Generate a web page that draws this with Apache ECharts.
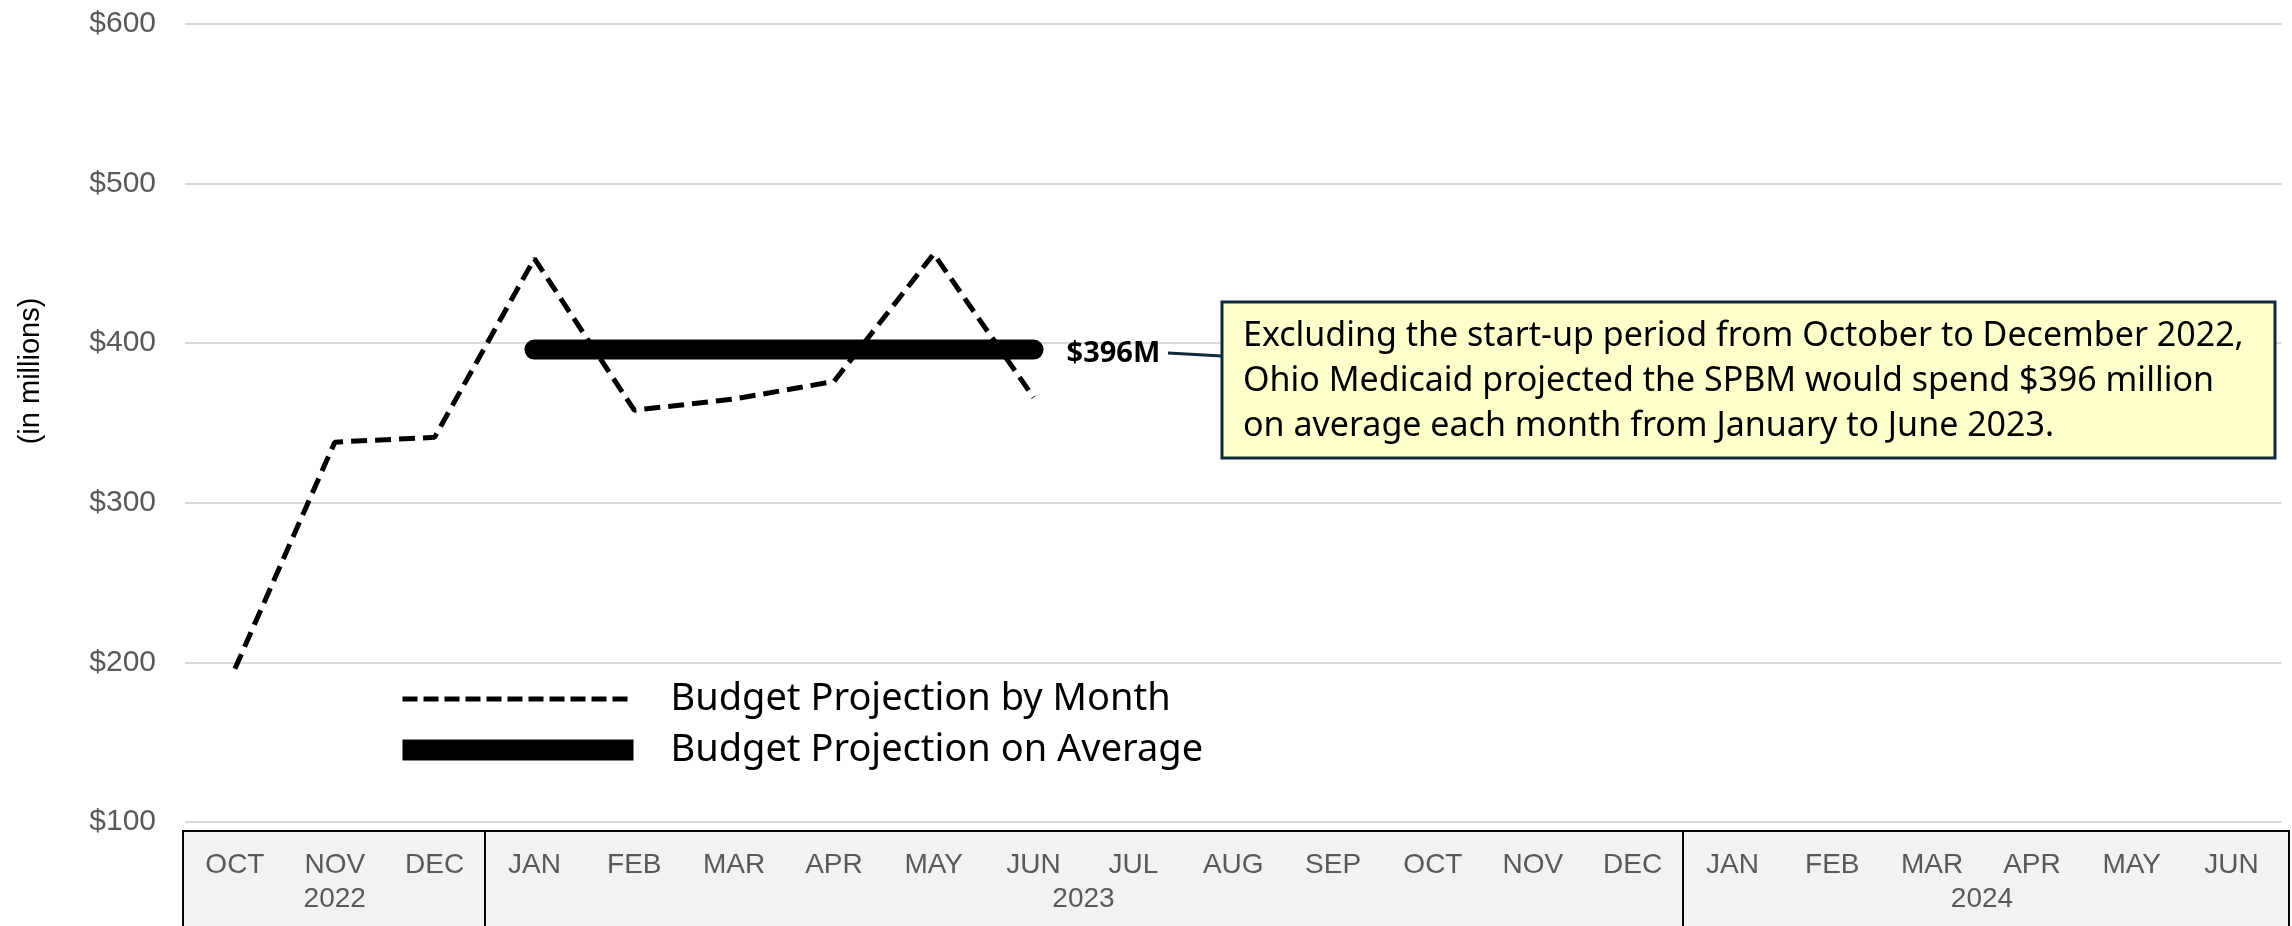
<!DOCTYPE html>
<html>
<head>
<meta charset="utf-8">
<script src="https://cdn.jsdelivr.net/npm/echarts@6/dist/echarts.min.js"></script>
<style>
html,body{margin:0;padding:0;background:#fff;}
#main{width:2292px;height:926px;}
</style>
</head>
<body>
<div id="main"></div>
<script>
var months = ['OCT','NOV','DEC','JAN','FEB','MAR','APR','MAY','JUN','JUL','AUG','SEP','OCT','NOV','DEC','JAN','FEB','MAR','APR','MAY','JUN'];
var monthly = [196, 338, 341, 453, 358, 365, 376, 456, 366];
var average = [null, null, null, 396, 396, 396, 396, 396, 396];
var years = ['2022', '2023', '2024'];
var yearFirst = [0, 3, 15];
var yearLast = [2, 14, 20];
var yRange = [100, 600];
var yStep = 100;
var note = 'Excluding the start-up period from October to December 2022,\nOhio Medicaid projected the SPBM would spend $396 million\non average each month from January to June 2023.';

// year labels sit in the middle of their months, separators between years
var yearMid = years.map(function(y, i){ return (yearFirst[i] + yearLast[i]) / 2; });
var yearSplit = yearFirst.slice(1).map(function(v){ return v - 0.5; });

var chart = echarts.init(document.getElementById('main'));

var option = {
  animation:false,
  backgroundColor:'#fff',
  textStyle:{fontFamily:'Liberation Sans'},
  grid:[
    {left:185, right:10.5, top:24, bottom:104, outerBoundsMode:'none'},
    {left:185, right:10.5, top:831, bottom:0, outerBoundsMode:'none'},
    //box behind the month labels
    {left:183, right:3, top:831, bottom:-20, outerBoundsMode:'none', show:true, backgroundColor:'#f2f2f2', borderColor:'#000', borderWidth:2}
  ],
  legend:{
    orient:'vertical',
    left:400,
    top:680,
    padding:0,
    itemWidth:231,
    itemHeight:21,
    itemGap:13,
    selectedMode:false,
    textStyle:{fontFamily:'Noto Sans', fontSize:38, lineHeight:38, color:'#000', padding:[0,0,0,32]},
    data:[
      {name:'Budget Projection by Month', lineStyle:{width:5, type:[15,6]}, itemStyle:{color:'rgba(0,0,0,0)', borderWidth:0}},
      {name:'Budget Projection on Average', icon:'rect', itemStyle:{color:'#000', borderWidth:0}}
    ]
  },
  xAxis:[
    {
      type:'category', gridIndex:0, data:months, boundaryGap:true,
      axisLine:{show:false}, axisTick:{show:false}, axisLabel:{show:false}
    },
    {
      type:'category', gridIndex:1, data:months, position:'top', boundaryGap:true,
      axisLine:{show:false}, axisTick:{show:false},
      axisLabel:{inside:true, interval:0, margin:20, fontSize:28, color:'#595959'}
    },
    {
      type:'value', gridIndex:1, min:-0.5, max:20.5, position:'bottom',
      axisLine:{show:false}, splitLine:{show:false},
      axisTick:{show:true, inside:true, length:95, customValues:yearSplit, lineStyle:{color:'#000', width:2}},
      axisLabel:{
        inside:true, margin:13, customValues:yearMid, fontSize:28, color:'#595959',
        formatter:function(v){ return years[yearMid.indexOf(v)]; }
      }
    }
  ],
  yAxis:[
    {
      type:'value', gridIndex:0, min:yRange[0], max:yRange[1], interval:yStep,
      axisLine:{show:false}, axisTick:{show:false},
      axisLabel:{formatter:'${value}', fontSize:30, color:'#595959', margin:29},
      splitLine:{lineStyle:{color:'#d9d9d9', width:2}}
    },
    {type:'value', gridIndex:1, show:false}
  ],
  series:[
    {
      name:'Budget Projection by Month',
      type:'line',
      xAxisIndex:0, yAxisIndex:0,
      data:monthly,
      symbol:'none',
      z:2,
      itemStyle:{color:'#000'},
      lineStyle:{color:'#000', width:5, type:[16,8]}
    },
    {
      name:'Budget Projection on Average',
      type:'line',
      xAxisIndex:0, yAxisIndex:0,
      data:average,
      symbol:'none',
      z:3,
      itemStyle:{color:'#000'},
      lineStyle:{color:'#000', width:20, cap:'round'},
      endLabel:{
        show:true, distance:33, offset:[0,4], fontFamily:'Noto Sans', fontSize:29, fontWeight:'bold', color:'#000',
        formatter:function(p){ return '$' + p.value + 'M'; }
      }
    }
  ],
  graphic:[
    {
      type:'text', x:31, y:371, rotation:Math.PI/2,
      style:{text:'(in millions)', fontFamily:'Liberation Sans', fontSize:29, fill:'#000', align:'center', verticalAlign:'middle'}
    },
    {type:'line', z:100, shape:{x1:1168, y1:353, x2:1222, y2:356}, style:{stroke:'#0e2a3b', lineWidth:3}},
    {type:'rect', z:100, shape:{x:1222, y:302, width:1053, height:156}, style:{fill:'#ffffcc', stroke:'#0e2a3b', lineWidth:3}},
    {
      type:'text', z:101, x:1243, y:381,
      style:{text:note, fontFamily:'Noto Sans', fontSize:34, lineHeight:45, fill:'#000', align:'left', verticalAlign:'middle'}
    }
  ]
};

chart.setOption(option);
</script>
</body>
</html>
